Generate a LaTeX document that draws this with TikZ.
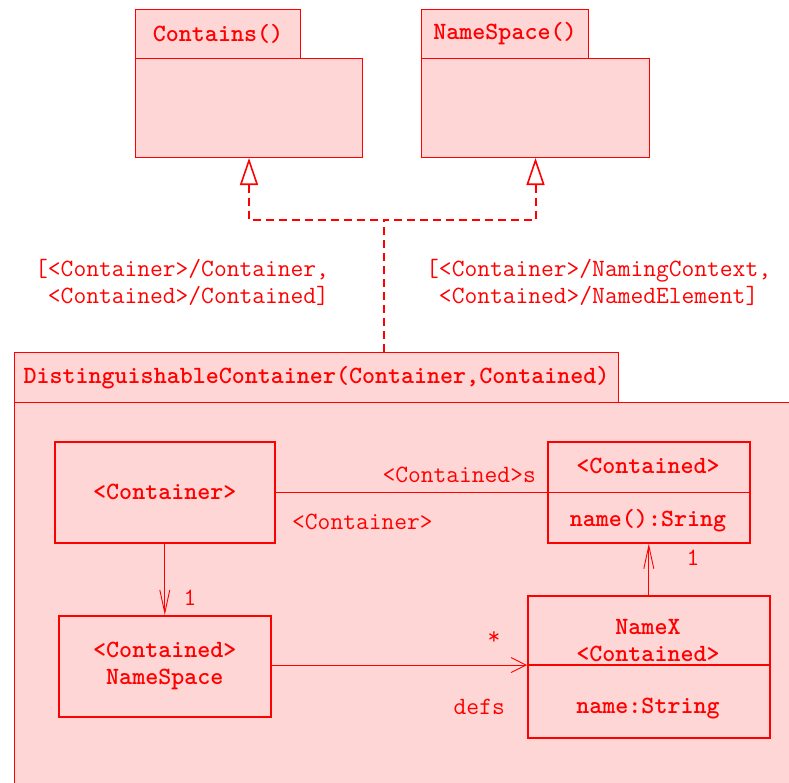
\documentclass[tikz,border=0pt]{standalone}
\usepackage{fontspec}
\usetikzlibrary{arrows.meta, calc}
\definecolor{umlred}{RGB}{255,0,0}
\definecolor{umlfill}{RGB}{255,214,214}

\begin{document}
\begin{tikzpicture}[x=1pt, y=-1pt,
        every node/.style={font=\fontsize{24.8}{27}\selectfont\ttfamily, text=umlred, inner sep=0pt},
        pkgbox/.style={draw=umlred, fill=umlfill, line width=1pt, anchor=north west},
        clsbox/.style={draw=umlred, fill=umlfill, line width=1.6pt, anchor=north west},
        dep/.style={draw=umlred, line width=2pt, dash pattern=on 8pt off 5pt},
        assoc/.style={draw=umlred, line width=0.9pt},
        realize/.style={{Triangle[length=27pt, width=18pt, open, fill=white, line width=1.6pt]}-},
        navv/.style={-{Straight Barb[length=23pt, width=10pt, line width=0.9pt]}},
        navh/.style={-{Straight Barb[length=15pt, width=15pt, line width=0.9pt]}}]
        \useasboundingbox (0, 0) rectangle (789, 782);
        \clip (0, 0) rectangle (789, 782);
        % templates on top
        \node [pkgbox, minimum width=165pt, minimum height=49pt] (containsTab) at (135, 9) {\bfseries Contains()};
        \node [pkgbox, minimum width=227pt, minimum height=99pt] (containsBody) at (135, 58) {};
        \node [pkgbox, minimum width=167pt, minimum height=49pt] (nameSpaceTab) at (421, 9) {\bfseries NameSpace()};
        \node [pkgbox, minimum width=228pt, minimum height=99pt] (nameSpaceBody) at (421, 58) {};
        % the bound package
        \node [pkgbox, minimum width=604pt, minimum height=50pt] (distTab) at (14, 352)
            {\bfseries DistinguishableContainer(Container,Contained)};
        \node [pkgbox, minimum width=800pt, minimum height=420pt] (distBody) at (14, 402) {};
        % bindings
        \coordinate (split) at (384, 220);
        \path [dep] (split |- distTab.north) -- (split);
        \path [dep, realize] (containsBody.south) |- (split);
        \path [dep, realize] (nameSpaceBody.south) |- (split);
        \node [anchor=west, align=left] (containsBind) at (35, 282)
            {[<Container>/Container,\\\phantom{[}<Contained>/Contained]};
        \node [anchor=west, align=left] (nameSpaceBind) at (426, 282)
            {[<Container>/NamingContext,\\\phantom{[}<Contained>/NamedElement]};
        % classes
        \node [clsbox, minimum width=220pt, minimum height=101pt] (containerCls) at (54, 441) {\bfseries <Container>};
        \node [clsbox, minimum width=202pt, minimum height=101pt] (containedCls) at (547, 441) {};
        \path [draw=umlred, line width=1.6pt] (containedCls.west) -- (containedCls.east);
        \node (containedName) at (648, 466) {\bfseries <Contained>};
        \node (containedOp) at (648, 521) {\bfseries name():Sring};
        \node [clsbox, minimum width=212pt, minimum height=101pt, align=center] (nameSpaceCls) at (58, 615)
            {\bfseries <Contained>\\\bfseries NameSpace};
        \node [clsbox, minimum width=242pt, minimum height=142pt] (nameXCls) at (527, 595) {};
        \coordinate (nameXSep) at (527, 665);
        \path [draw=umlred, line width=1.6pt] (nameXSep) -- (nameXSep -| nameXCls.east);
        \node [align=center] (nameXName) at (648, 641) {\bfseries NameX\\\bfseries <Contained>};
        \node (nameXAttr) at (648, 709) {\bfseries name:String};
        % associations
        \path [assoc] (containerCls) -- (containedCls);
        \node [anchor=east] (roleContained) at (536, 475) {<Contained>s};
        \node [anchor=west] (roleContainer) at (292, 522) {<Container>};
        \path [assoc, navv] (containerCls.south) -- (nameSpaceCls.north);
        \node (multNs) at (190, 598) {1};
        \path [assoc, navh] (nameXSep -| nameSpaceCls.east) -- (nameXSep);
        \node (multDefs) at (494, 638) {*};
        \node [anchor=east] (roleDefs) at (505, 707) {defs};
        \path [assoc, navv] (nameXCls.north) -- (containedCls.south);
        \node (multName) at (693, 558) {1};
    \end{tikzpicture}
\end{document}
